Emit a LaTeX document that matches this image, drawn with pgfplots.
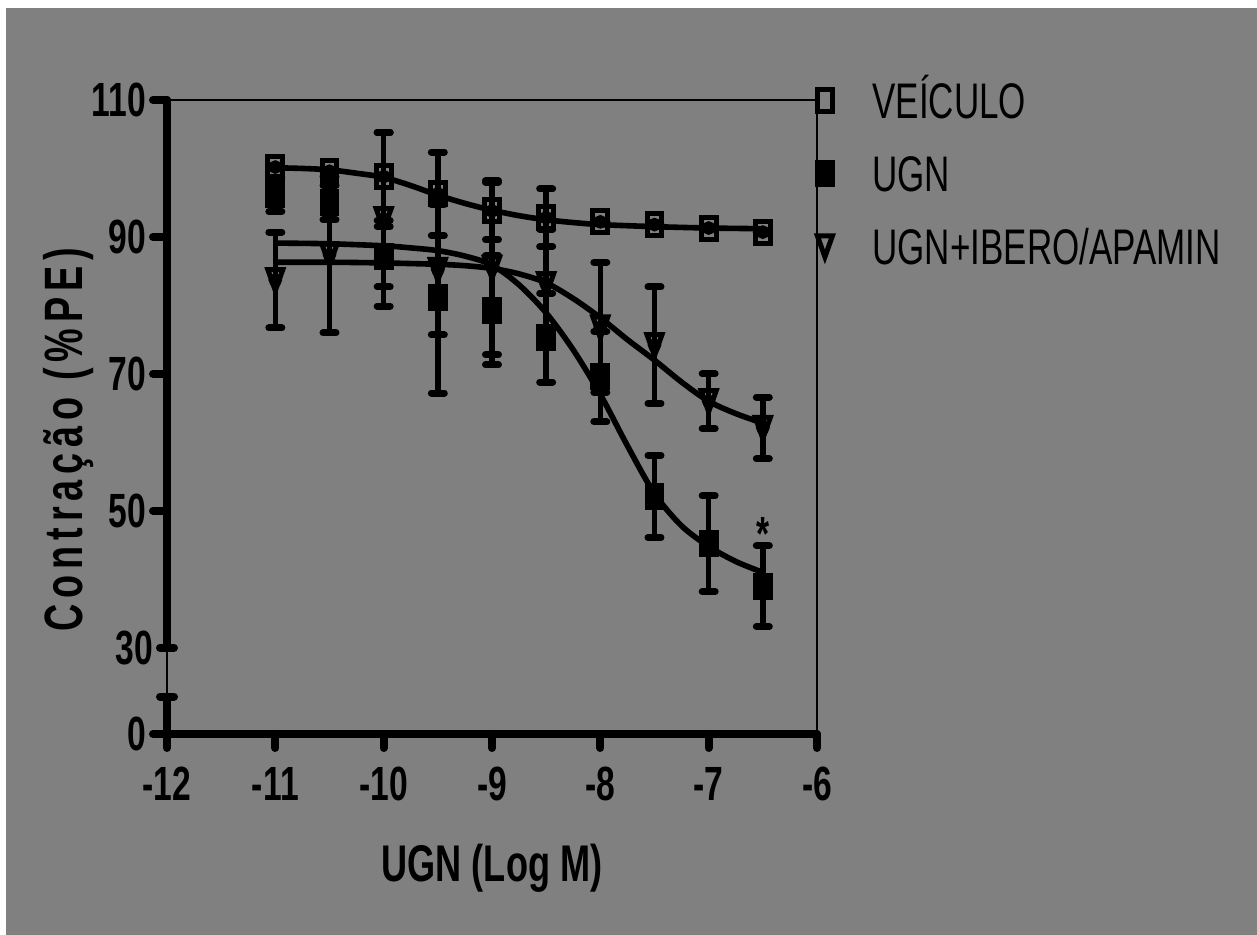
\documentclass[border=0pt]{standalone}
\usepackage{fontspec}
\setmainfont{Liberation Sans}[FakeStretch=0.7]
\newfontfamily\ylabfont{Liberation Sans}[FakeStretch=0.7,LetterSpace=11]
\usepackage{pgfplots}
\usepackage{pgfplotstable}
\pgfplotsset{compat=1.18}
\definecolor{bg}{RGB}{128,128,128}

% mean and error
\pgfplotstableread{
x y e
-11 100.2 0
-10.5 99.6 0
-10 98.8 6.4
-9.5 96.3 6.1
-9 93.8 4.2
-8.5 92.8 4.2
-8 92.2 0
-7.5 91.8 0
-7 91.3 0
-6.5 90.7 0
}\veh
\pgfplotstableread{
x y e
-11 96.2 2.5
-10.5 95.0 2.5
-10 87.1 4.4
-9.5 81.2 14.0
-9 79.3 8.0
-8.5 75.3 6.5
-8 69.6 6.6
-7.5 52.1 6.0
-7 45.2 7.0
-6.5 39.0 5.9
}\ugn
\pgfplotstableread{
x y e
-11 83.7 7.0
-10.5 87.4 11.4
-10 92.6 12.7
-9.5 85.2 9.5
-9 85.5 12.7
-8.5 83.1 8.0
-8 76.8 9.5
-7.5 74.2 8.5
-7 66.0 4.0
-6.5 62.1 4.5
}\ibe

% fitted curves
\pgfplotstableread{
x y
-11 100.1
-10.75 100.0
-10.5 99.8
-10.25 99.3
-10 98.7
-9.75 97.5
-9.5 96.1
-9.25 94.9
-9 93.9
-8.75 93.1
-8.5 92.5
-8.25 92.1
-8 91.8
-7.5 91.5
-7 91.3
-6.5 91.2
}\vehfit
\pgfplotstableread{
x y
-11 89.1
-10.5 89.0
-10 88.7
-9.75 88.4
-9.5 88.0
-9.25 87.2
-9 85.9
-8.75 83.0
-8.5 78.9
-8.25 73.5
-8 67.0
-7.75 59.5
-7.5 52.5
-7.25 47.8
-7 44.8
-6.75 42.6
-6.5 41.0
}\ugnfit
\pgfplotstableread{
x y
-11 86.3
-10.5 86.3
-10 86.2
-9.5 86.0
-9.25 85.8
-9 85.4
-8.75 84.6
-8.5 83.3
-8.25 81.0
-8 78.2
-7.75 75.0
-7.5 72.0
-7.25 68.8
-7 66.0
-6.75 64.2
-6.5 62.8
}\ibefit

\begin{document}
\begin{tikzpicture}[x=0.5pt,y=0.5pt]
\fill[white] (0,0) rectangle (1257,935);
\fill[bg] (6,0) rectangle (1257,927);
\begin{axis}[
    at={(83.5pt,100.5pt)}, anchor=south west,
    scale only axis, width=325pt, height=317pt,
    xmin=-12, xmax=-6, ymin=17.4, ymax=110,
    clip=false,
    axis line style={line width=1pt, black},
    xtick={-12,-11,-10,-9,-8,-7,-6},
    xticklabels={-12,-11,-10,-9,-8,-7,-6},
    ytick={17.4,50,70,90,110},
    yticklabels={0,50,70,90,110},
    extra y ticks={22.85,30},
    extra y tick labels={,30},
    extra y tick style={tick align=center},
    xtick pos=left, ytick pos=left,
    tick align=outside,
    major tick length=7pt,
    tick style={line width=4pt, line cap=round, black},
    ticklabel style={font=\bfseries\fontsize{24}{24}\selectfont},
    xticklabel style={yshift=-6pt},
    xlabel={UGN (Log M)},
    xlabel style={font=\bfseries\fontsize{25.8}{25.8}\selectfont,
        at={(axis description cs:0.5,-0.233)}, anchor=base},
    ylabel={Contração (\%PE)},
    ylabel style={font=\ylabfont\bfseries\fontsize{27}{27}\selectfont,
        at={(axis description cs:-0.152,0.464)}, anchor=center},
    legend style={draw=none, fill=none, inner sep=0pt,
        at={(rel axis cs:1,1)}, anchor=north west, xshift=0pt, yshift=9pt,
        font=\mdseries\fontsize{25}{25}\selectfont,
        nodes={inner sep=0pt, text height=18pt, text depth=0pt},
        cells={anchor=west}, row sep=18.5pt,
        /tikz/every odd column/.append style={column sep=20pt}},
    legend image code/.code={\draw[#1, only marks] plot coordinates {(0pt,0pt)};},
    error bars/error bar style={line width=2.7pt, black},
    error bars/error mark options={rotate=90, mark size=3.25pt, line width=3.5pt, line cap=round, black},
]
\addplot[black, line width=2.8pt, smooth, forget plot] table[x=x,y=y] {\vehfit};
\addplot[black, line width=2.8pt, smooth, forget plot] table[x=x,y=y] {\ugnfit};
\addplot[black, line width=2.8pt, smooth, forget plot] table[x=x,y=y] {\ibefit};

% error bars on their own
\addplot[black, line width=2.7pt, only marks, mark=none, forget plot,
    error bars/.cd, y dir=both, y explicit] table[x=x,y=y,y error=e] {\veh};
\addplot[black, line width=2.7pt, only marks, mark=none, forget plot,
    error bars/.cd, y dir=both, y explicit] table[x=x,y=y,y error=e] {\ugn};
\addplot[black, line width=2.7pt, only marks, mark=none, forget plot,
    error bars/.cd, y dir=both, y explicit] table[x=x,y=y,y error=e] {\ibe};

% symbols
\addplot[black, only marks, mark=square, mark size=5.5pt,
    mark options={xscale=0.68, line width=2.5pt, fill=none}]
    table[x=x,y=y] {\veh};
\addlegendentry{VEÍCULO}
\addplot[black, only marks, mark=square*, mark size=5.5pt,
    mark options={xscale=0.68, line width=2.5pt, fill=black}]
    table[x=x,y=y] {\ugn};
\addlegendentry{UGN}
\addplot[black, only marks, mark=triangle, mark size=7pt,
    mark options={yshift=1.75pt, rotate=180, xscale=0.62, line width=2.5pt, fill=none}]
    table[x=x,y=y] {\ibe};
\addlegendentry{UGN+IBERO/APAMIN}

% heavy axis segments with the break between 0 and 30
\draw[line width=4pt, line cap=round] (axis cs:-12,17.4) -- (axis cs:-6,17.4);
\draw[line width=4pt, line cap=round] (axis cs:-12,17.4) -- (axis cs:-12,22.85);
\draw[line width=4pt, line cap=round] (axis cs:-12,30) -- (axis cs:-12,110);

\node[font=\bfseries\fontsize{24}{24}\selectfont, inner sep=0pt] at (axis cs:-6.5,46.6) {*};
\end{axis}
\pgfresetboundingbox
\useasboundingbox (0,0) rectangle (1257,935);
\end{tikzpicture}
\end{document}
